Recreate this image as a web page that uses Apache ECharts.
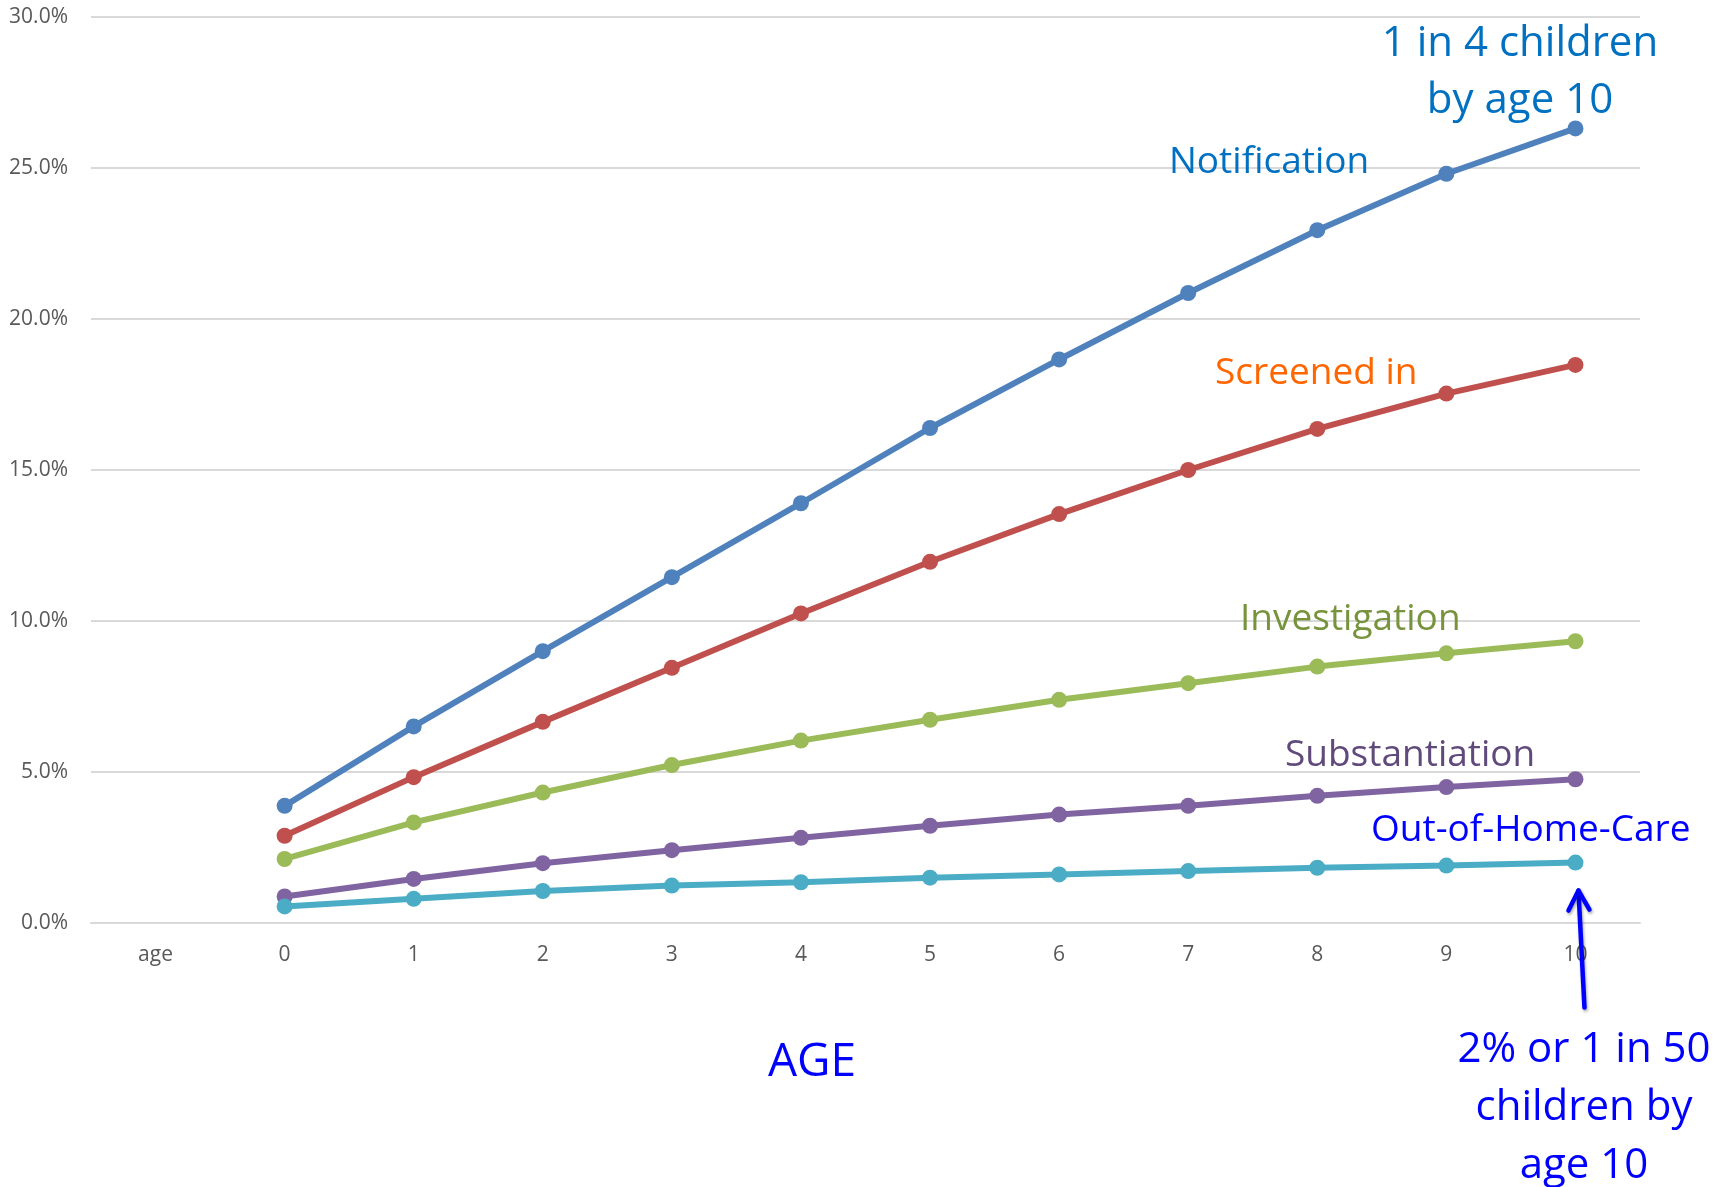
<!DOCTYPE html>
<html>
<head>
<meta charset="utf-8">
<title>Cumulative child protection contact by age</title>
<script src="https://cdn.jsdelivr.net/npm/echarts@6/dist/echarts.min.js"></script>
<style>
  html, body { margin: 0; padding: 0; background: #ffffff; }
  #chart { width: 1733px; height: 1187px; }
</style>
</head>
<body>
<div id="chart"></div>
<script>
// Categories along the horizontal axis (first slot is the "age" header column)
const ages = ['age', '0', '1', '2', '3', '4', '5', '6', '7', '8', '9', '10'];

// Cumulative percentage of children reaching each stage by age
const notification   = [null, 3.88, 6.51, 9.00, 11.45, 13.90, 16.39, 18.66, 20.86, 22.94, 24.81, 26.31];
const screenedIn     = [null, 2.89, 4.83, 6.66, 8.45, 10.25, 11.96, 13.54, 15.00, 16.36, 17.53, 18.48];
const investigation  = [null, 2.12, 3.33, 4.32, 5.23, 6.04, 6.73, 7.39, 7.94, 8.49, 8.93, 9.33];
const substantiation = [null, 0.88, 1.46, 1.98, 2.41, 2.82, 3.22, 3.59, 3.88, 4.21, 4.50, 4.76];
const outOfHomeCare  = [null, 0.55, 0.80, 1.06, 1.24, 1.35, 1.50, 1.61, 1.72, 1.83, 1.90, 2.00];

// Value-axis ticks (percent)
const yTicks = { min: 0, max: 30, interval: 5 };

const FONT = '"Open Sans", "Noto Sans", sans-serif';

const seriesDefs = [
  { name: 'Notification',     data: notification,   color: '#4F81BD' },
  { name: 'Screened in',      data: screenedIn,     color: '#C0504D' },
  { name: 'Investigation',    data: investigation,  color: '#9BBB59' },
  { name: 'Substantiation',   data: substantiation, color: '#8064A2' },
  { name: 'Out-of-Home-Care', data: outOfHomeCare,  color: '#4BACC6' }
];

const chart = echarts.init(document.getElementById('chart'), null, { renderer: 'canvas' });

const option = {
  animation: false,
  backgroundColor: '#ffffff',
  grid: { left: 91, top: 17, width: 1549, height: 906, containLabel: false },
  xAxis: {
    type: 'category',
    data: ages,
    boundaryGap: true,
    axisLine: { show: true, lineStyle: { color: '#D9D9D9', width: 2 } },
    axisTick: { show: false },
    axisLabel: { color: '#595959', fontFamily: FONT, fontSize: 21, margin: 22 }
  },
  yAxis: {
    type: 'value',
    min: yTicks.min,
    max: yTicks.max,
    interval: yTicks.interval,
    axisLine: { show: false },
    axisTick: { show: false },
    splitLine: { show: true, lineStyle: { color: '#D9D9D9', width: 2 } },
    axisLabel: {
      color: '#595959', fontFamily: FONT, fontSize: 21, margin: 23,
      formatter: v => v.toFixed(1) + '%'
    }
  },
  series: seriesDefs.map(s => ({
    name: s.name,
    type: 'line',
    data: s.data,
    connectNulls: false,
    symbol: 'circle',
    symbolSize: 16,
    showSymbol: true,
    lineStyle: { color: s.color, width: 6 },
    itemStyle: { color: s.color },
    emphasis: { disabled: true }
  }))
};

chart.setOption(option);

// Annotation text placed over the plot
function text(x, y, str, color, size, align) {
  return {
    type: 'text', x: x, y: y, z: 100,
    style: {
      text: str, fill: color, font: size + 'px ' + FONT,
      textAlign: align || 'left', textVerticalAlign: 'middle', lineHeight: size * 1.3
    }
  };
}

// Arrow pointing at the final out-of-home-care point
const tip = chart.convertToPixel({ gridIndex: 0 }, ['10', outOfHomeCare[11]]);
const tipX = tip[0] + 3, tipY = tip[1] + 28;
const tailX = tipX + 6, tailY = tipY + 117;
const arrowStyle = {
  stroke: '#0000FF', lineWidth: 4.5, fill: null, lineCap: 'round', lineJoin: 'round',
  shadowBlur: 3, shadowColor: 'rgba(0,0,0,0.35)', shadowOffsetX: 1, shadowOffsetY: 2
};

chart.setOption({
  graphic: [
    text(1169, 162, 'Notification', '#0070C0', 37),
    text(1215, 373, 'Screened in', '#FF6600', 37),
    text(1240, 619, 'Investigation', '#77933C', 37),
    text(1285, 755, 'Substantiation', '#604A7B', 37),
    text(1371, 830, 'Out-of-Home-Care', '#0000FF', 37),
    text(1520, 44, '1 in 4 children', '#0070C0', 42, 'center'),
    text(1520, 101, 'by age 10', '#0070C0', 42, 'center'),
    text(812, 1063, 'AGE', '#0000FF', 46, 'center'),
    text(1584, 1050, '2% or 1 in 50', '#0000FF', 42, 'center'),
    text(1584, 1108, 'children by', '#0000FF', 42, 'center'),
    text(1584, 1166, 'age 10', '#0000FF', 42, 'center'),
    {
      type: 'polyline', z: 99,
      shape: { points: [[tailX, tailY], [tipX, tipY]] },
      style: arrowStyle
    },
    {
      type: 'polyline', z: 99,
      shape: { points: [[tipX - 10, tipY + 20], [tipX, tipY], [tipX + 11, tipY + 19]] },
      style: arrowStyle
    }
  ]
});
</script>
</body>
</html>
